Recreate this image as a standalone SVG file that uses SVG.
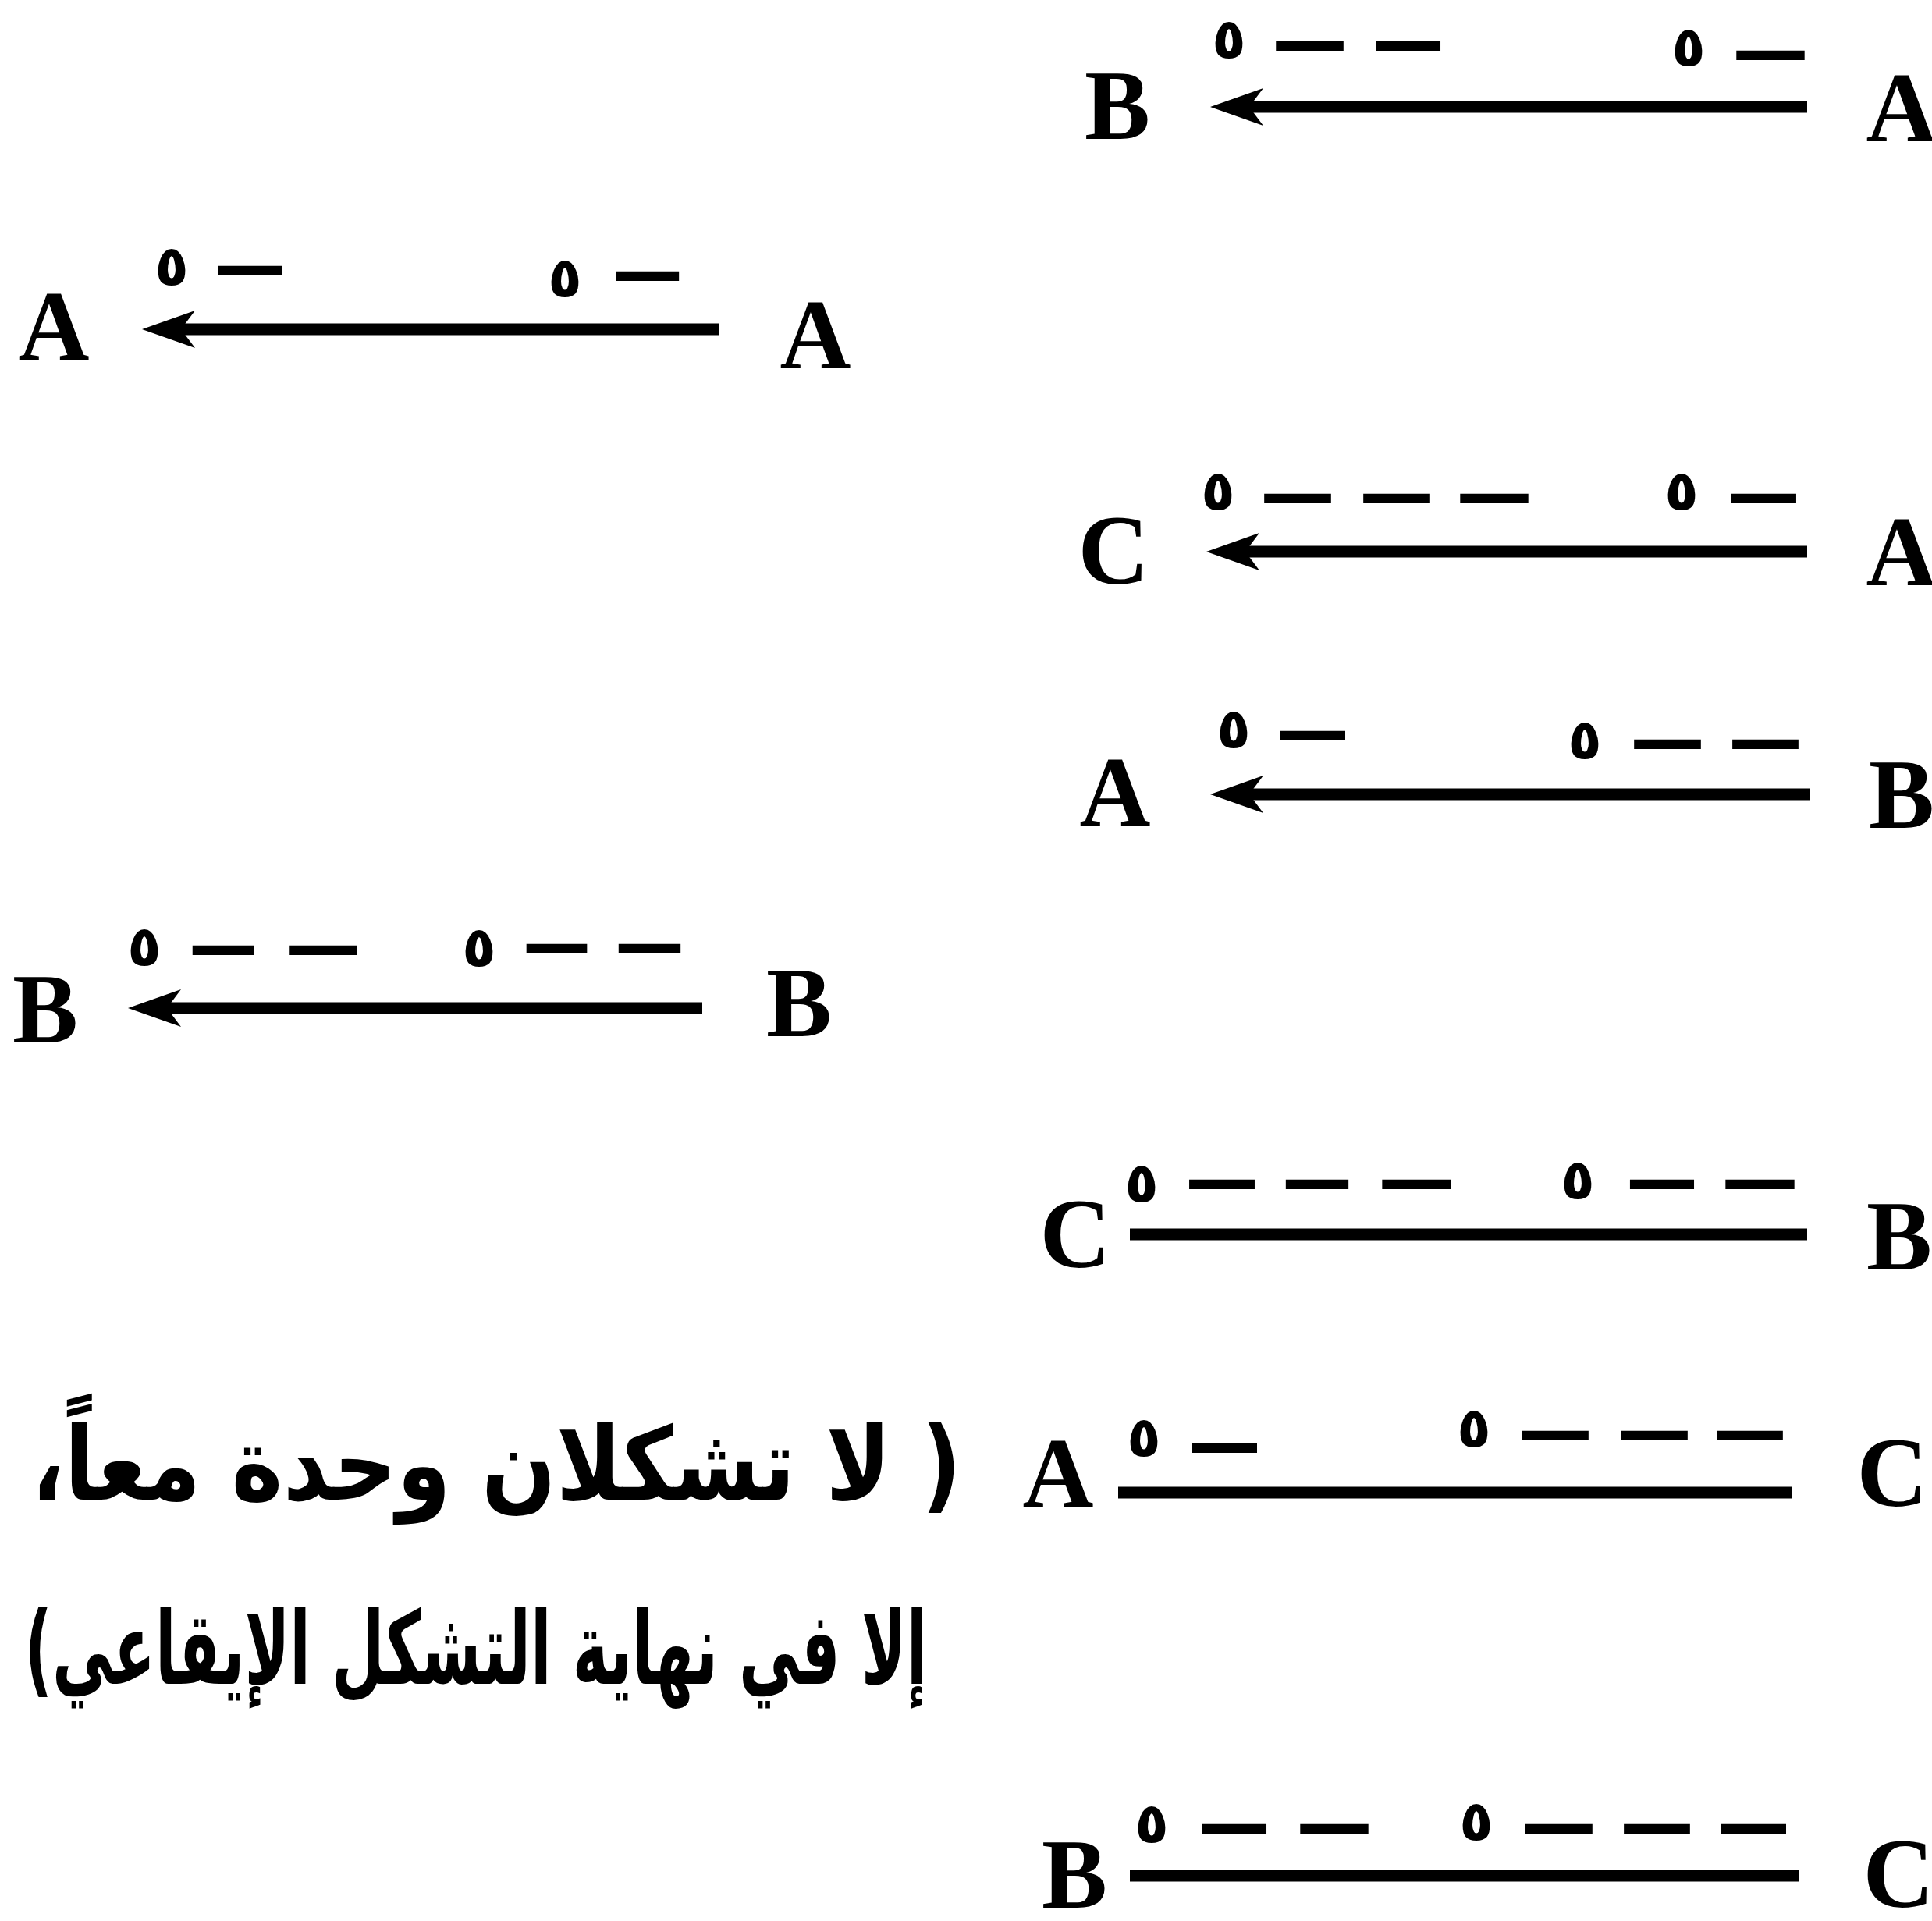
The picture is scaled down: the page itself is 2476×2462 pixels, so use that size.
<svg xmlns="http://www.w3.org/2000/svg" width="2476" height="2462" viewBox="0 0 2476 2462">
<style>
.lt{font-family:"Liberation Serif","DejaVu Serif",serif;font-weight:bold;font-size:126px;text-anchor:middle;fill:#000}
.mk{font-family:"DejaVu Sans",sans-serif;font-weight:bold;font-size:72px;text-anchor:middle;fill:#000}
.ds{font-family:"DejaVu Sans",sans-serif;font-weight:bold;font-size:96px;fill:#000}
.ar{font-family:"DejaVu Sans","Noto Sans",sans-serif;font-weight:bold;font-size:130px;text-anchor:middle;direction:rtl;fill:#000}
.ln{stroke:#000;stroke-width:15;fill:none}
</style>
<defs>
<marker id="ah" markerUnits="userSpaceOnUse" orient="auto" refX="-40" refY="0" markerWidth="120" markerHeight="80" viewBox="-80 -40 120 80" overflow="visible">
<path d="M0,0 L-68,-24 L-50,0 L-68,24 Z" fill="#000"/>
</marker>
</defs>
<rect width="2476" height="2462" fill="#fff"/>

<g id="connectors">
<line class="ln" x1="2316" y1="137" x2="1591" y2="137" marker-end="url(#ah)"/>
<line class="ln" x1="922" y1="422" x2="222" y2="422" marker-end="url(#ah)"/>
<line class="ln" x1="2316" y1="707" x2="1586" y2="707" marker-end="url(#ah)"/>
<line class="ln" x1="2320" y1="1018" x2="1591" y2="1018" marker-end="url(#ah)"/>
<line class="ln" x1="900" y1="1292" x2="204" y2="1292" marker-end="url(#ah)"/>
<line class="ln" x1="1448" y1="1582" x2="2316" y2="1582"/>
<line class="ln" x1="1433" y1="1913" x2="2297" y2="1913"/>
<line class="ln" x1="1448" y1="2404" x2="2306" y2="2404"/>
</g>

<g id="node-r1-B"><text class="lt" x="1432" y="178">B</text></g>
<g id="node-r1-A"><text class="lt" x="2437" y="181">A</text></g>
<g id="node-r2-A1"><text class="lt" x="69" y="461">A</text></g>
<g id="node-r2-A2"><text class="lt" x="1045" y="472">A</text></g>
<g id="node-r3-C"><text class="lt" x="1427" y="748">C</text></g>
<g id="node-r3-A"><text class="lt" x="2437" y="750">A</text></g>
<g id="node-r4-A"><text class="lt" x="1429" y="1058">A</text></g>
<g id="node-r4-B"><text class="lt" x="2437" y="1061">B</text></g>
<g id="node-r5-B1"><text class="lt" x="58" y="1336">B</text></g>
<g id="node-r5-B2"><text class="lt" x="1024" y="1328">B</text></g>
<g id="node-r6-C"><text class="lt" x="1378" y="1624">C</text></g>
<g id="node-r6-B"><text class="lt" x="2434" y="1627">B</text></g>
<g id="node-r7-A"><text class="lt" x="1356" y="1931">A</text></g>
<g id="node-r7-C"><text class="lt" x="2425" y="1930">C</text></g>
<g id="node-r8-B"><text class="lt" x="1377" y="2445">B</text></g>
<g id="node-r8-C"><text class="lt" x="2433" y="2444">C</text></g>

<g id="marks">
<text class="mk" x="1575" y="75">٥</text>
<text class="ds" x="1630" y="85" textLength="97" lengthAdjust="spacingAndGlyphs">—</text>
<text class="ds" x="1759" y="85" textLength="92" lengthAdjust="spacingAndGlyphs">—</text>
<text class="mk" x="2164" y="85">٥</text>
<text class="ds" x="2220" y="97" textLength="98" lengthAdjust="spacingAndGlyphs">—</text>

<text class="mk" x="220" y="366">٥</text>
<text class="ds" x="274" y="373" textLength="93" lengthAdjust="spacingAndGlyphs">—</text>
<text class="mk" x="724" y="381">٥</text>
<text class="ds" x="785" y="380" textLength="90" lengthAdjust="spacingAndGlyphs">—</text>

<text class="mk" x="1561" y="654">٥</text>
<text class="ds" x="1615" y="665" textLength="96" lengthAdjust="spacingAndGlyphs">—</text>
<text class="ds" x="1742" y="665" textLength="96" lengthAdjust="spacingAndGlyphs">—</text>
<text class="ds" x="1866" y="665" textLength="98" lengthAdjust="spacingAndGlyphs">—</text>
<text class="mk" x="2155" y="654">٥</text>
<text class="ds" x="2213" y="665" textLength="94" lengthAdjust="spacingAndGlyphs">—</text>

<text class="mk" x="1581" y="959">٥</text>
<text class="ds" x="1636" y="969" textLength="93" lengthAdjust="spacingAndGlyphs">—</text>
<text class="mk" x="2031" y="973">٥</text>
<text class="ds" x="2089" y="980" textLength="96" lengthAdjust="spacingAndGlyphs">—</text>
<text class="ds" x="2215" y="980" textLength="95" lengthAdjust="spacingAndGlyphs">—</text>

<text class="mk" x="185" y="1238">٥</text>
<text class="ds" x="242" y="1244" textLength="88" lengthAdjust="spacingAndGlyphs">—</text>
<text class="ds" x="366" y="1244" textLength="97" lengthAdjust="spacingAndGlyphs">—</text>
<text class="mk" x="614" y="1239">٥</text>
<text class="ds" x="670" y="1242" textLength="87" lengthAdjust="spacingAndGlyphs">—</text>
<text class="ds" x="788" y="1242" textLength="89" lengthAdjust="spacingAndGlyphs">—</text>

<text class="mk" x="1463" y="1541">٥</text>
<text class="ds" x="1519" y="1544" textLength="94" lengthAdjust="spacingAndGlyphs">—</text>
<text class="ds" x="1643" y="1544" textLength="90" lengthAdjust="spacingAndGlyphs">—</text>
<text class="ds" x="1766" y="1544" textLength="99" lengthAdjust="spacingAndGlyphs">—</text>
<text class="mk" x="2022" y="1537">٥</text>
<text class="ds" x="2084" y="1544" textLength="92" lengthAdjust="spacingAndGlyphs">—</text>
<text class="ds" x="2206" y="1544" textLength="99" lengthAdjust="spacingAndGlyphs">—</text>

<text class="mk" x="1466" y="1867">٥</text>
<text class="ds" x="1523" y="1882" textLength="93" lengthAdjust="spacingAndGlyphs">—</text>
<text class="mk" x="1889" y="1855">٥</text>
<text class="ds" x="1945" y="1866" textLength="96" lengthAdjust="spacingAndGlyphs">—</text>
<text class="ds" x="2072" y="1866" textLength="96" lengthAdjust="spacingAndGlyphs">—</text>
<text class="ds" x="2195" y="1866" textLength="95" lengthAdjust="spacingAndGlyphs">—</text>

<text class="mk" x="1476" y="2362">٥</text>
<text class="ds" x="1536" y="2370" textLength="92" lengthAdjust="spacingAndGlyphs">—</text>
<text class="ds" x="1661" y="2370" textLength="98" lengthAdjust="spacingAndGlyphs">—</text>
<text class="mk" x="1892" y="2359">٥</text>
<text class="ds" x="1949" y="2370" textLength="97" lengthAdjust="spacingAndGlyphs">—</text>
<text class="ds" x="2076" y="2370" textLength="95" lengthAdjust="spacingAndGlyphs">—</text>
<text class="ds" x="2201" y="2370" textLength="93" lengthAdjust="spacingAndGlyphs">—</text>
</g>

<g id="note">
<text class="ar" x="636" y="1922" textLength="1192" lengthAdjust="spacingAndGlyphs">( لا تشكلان وحدة معاً،</text>
<text class="ar" x="610" y="2158" textLength="1157" lengthAdjust="spacingAndGlyphs">إلا في نهاية التشكل الإيقاعي)</text>
</g>
</svg>
